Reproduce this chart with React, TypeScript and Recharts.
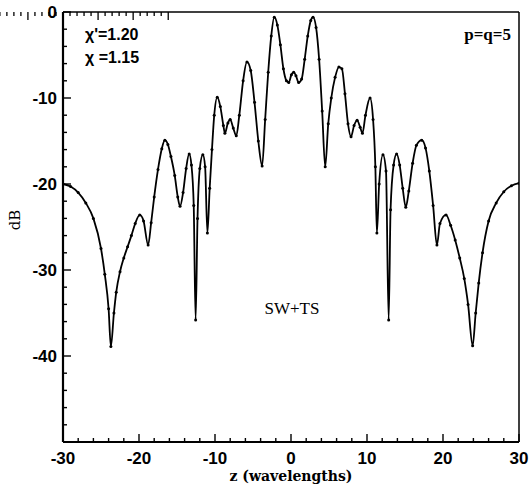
import { LineChart, Line, XAxis, YAxis, Customized } from "recharts";

// z positions (wavelengths)
const zValues = [
  -30, -29, -28, -27, -26, -25, -24.5, -24, -23.7, -23.3, -23, -22.5, -22, -21.5, -21, -20.5,
  -19.9, -19.4, -18.8, -18.4, -18, -17.5, -17, -16.6, -16.2, -15.8, -15.3, -14.9, -14.6, -14.2,
  -13.8, -13.4, -13.1, -12.8, -12.55, -12.3, -12, -11.6, -11.3, -11, -10.7, -10.4, -10.1, -9.7,
  -9.3, -8.9, -8.7, -8.3, -8, -7.6, -7.2, -6.8, -6.3, -5.8, -5.3, -4.8, -4.3, -3.8, -3.4, -3,
  -2.6, -2.2, -1.8, -1.4, -1, -0.6, -0.3, 0.05, 0.35, 0.65, 1, 1.4, 1.8, 2.2, 2.6, 2.9, 3.3, 3.7,
  4.1, 4.5, 4.9, 5.3, 5.8, 6.3, 6.7, 7.1, 7.5, 7.9, 8.3, 8.7, 9.1, 9.4, 9.8, 10.4, 10.8, 11.1,
  11.3, 11.6, 12.1, 12.5, 12.85, 13.1, 13.5, 13.9, 14.3, 14.7, 15.1, 15.5, 16, 16.5, 17.2, 17.7,
  18.2, 18.7, 19.2, 19.6, 20.4, 21, 21.6, 22.2, 22.8, 23.3, 23.9, 24.3, 24.7, 25.2, 26, 27, 28,
  29, 30,
];

// SW+TS level in dB at each z
const dbValues = [
  -20, -20.3, -21, -22.2, -24, -27.5, -30.5, -34.5, -38.9, -35, -32.6, -30.2, -28.6, -27.3, -26,
  -24.6, -23.6, -24.3, -27.1, -24.5, -21.5, -18.3, -15.9, -14.9, -15.4, -16.8, -19, -21.5, -22.6,
  -21, -18.2, -16.5, -17.8, -22.5, -35.8, -24, -18.2, -16.6, -18, -25.7, -20.5, -16, -12, -9.9,
  -11, -13.2, -14.1, -12.9, -12.5, -13.5, -14.4, -12, -8, -5.8, -6.8, -10.5, -15, -17.9, -12.5,
  -7, -2.8, -0.6, -1.5, -3.8, -6.6, -8, -8.2, -7.3, -7, -7.4, -8.2, -7.8, -5.5, -2.8, -1, -0.6,
  -1.8, -5.5, -11.5, -18, -13, -10, -7.6, -6.4, -6.6, -9.5, -13, -14.5, -13.2, -12.6, -13.4,
  -14.1, -12, -10, -12.5, -18, -25.7, -20, -16.6, -18.5, -35.8, -23, -17.8, -16.5, -17.8, -20.5,
  -22.7, -20.8, -17.6, -15.5, -14.9, -15.8, -18.5, -22.5, -27.1, -24.6, -23.6, -24.8, -26.5,
  -28.6, -31, -34, -38.8, -35, -31.5, -28, -24.3, -22.2, -20.9, -20.2, -19.9,
];

const xTicks = [
  -30, -28, -26, -24, -22, -20, -18, -16, -14, -12, -10, -8, -6, -4, -2, 0, 2, 4, 6, 8, 10, 12,
  14, 16, 18, 20, 22, 24, 26, 28, 30,
];
const yTicks = [
  0, -2, -4, -6, -8, -10, -12, -14, -16, -18, -20, -22, -24, -26, -28, -30, -32, -34, -36, -38,
  -40, -42, -44, -46, -48, -50,
];
const yLabelled = [0, -10, -20, -30, -40];

const data = zValues.map((z, i) => ({ z, db: dbValues[i] }));

const W = 529;
const H = 491;
const L = 63;
const R = 519;
const T = 12;
const B = 442;

const sans = "'Liberation Sans', Arial, sans-serif";
const serif = "'Liberation Serif', 'Times New Roman', serif";
const wideSerif = "'DejaVu Serif', serif";

function BottomTick({ x, payload }: any) {
  const v = payload.value;
  const major = v % 10 === 0;
  return (
    <g>
      <line x1={x} x2={x} y1={B} y2={B - (major ? 8 : 4)} stroke="#000" strokeWidth={1.4} />
      {major && (
        <text x={x} y={B + 22} textAnchor="middle" fontFamily={sans} fontWeight="bold" fontSize={17} fill="#000">
          {v}
        </text>
      )}
    </g>
  );
}

function TopTick({ x, payload }: any) {
  const major = payload.value % 10 === 0;
  return <line x1={x} x2={x} y1={T} y2={T + (major ? 8 : 4)} stroke="#000" strokeWidth={1.3} />;
}

function LeftTick({ y, payload }: any) {
  const v = payload.value;
  const major = v % 10 === 0;
  return (
    <g>
      <line x1={L} x2={L + (major ? 8 : 4)} y1={y} y2={y} stroke="#000" strokeWidth={1.4} />
      {yLabelled.includes(v) && (
        <text x={L - 6} y={y + 6} textAnchor="end" fontFamily={sans} fontWeight="bold" fontSize={17} fill="#000">
          {v}
        </text>
      )}
    </g>
  );
}

function RightTick({ y, payload }: any) {
  const major = payload.value % 10 === 0;
  return <line x1={R} x2={R - (major ? 8 : 4)} y1={y} y2={y} stroke="#000" strokeWidth={1.3} />;
}

function Notes() {
  return (
    <g fill="#000">
      <text x={85} y={40} fontFamily={sans} fontWeight="bold" fontSize={16}>χ'=1.20</text>
      <text x={85} y={63} fontFamily={sans} fontWeight="bold" fontSize={16}>χ =1.15</text>
      <text x={511} y={40} textAnchor="end" fontFamily={serif} fontWeight="bold" fontSize={17}>p=q=5</text>
      <text x={292} y={314} textAnchor="middle" fontFamily={serif} fontSize={17}>SW+TS</text>
      <text x={291} y={481} textAnchor="middle" fontFamily={wideSerif} fontWeight="bold" fontSize={14}>
        z (wavelengths)
      </text>
      <text
        x={16}
        y={220}
        textAnchor="middle"
        transform="rotate(-90 16 220)"
        fontFamily={wideSerif}
        fontSize={15}
        dominantBaseline="middle"
      >
        dB
      </text>
    </g>
  );
}

export default function App() {
  return (
    <div style={{ position: "absolute", left: 0, top: 0, width: W, height: H, background: "#fff" }}>
      <LineChart
        width={W}
        height={H}
        data={data}
        margin={{ top: T - 1, right: W - R - 1, bottom: H - B - 30, left: L - 40 }}
      >
        <XAxis
          xAxisId="b"
          dataKey="z"
          type="number"
          domain={[-30, 30]}
          ticks={xTicks}
          allowDataOverflow
          height={30}
          tickLine={false}
          axisLine={{ stroke: "#000", strokeWidth: 2.2 }}
          tick={<BottomTick />}
          interval={0}
        />
        <XAxis
          xAxisId="t"
          orientation="top"
          type="number"
          domain={[-30, 30]}
          ticks={xTicks}
          height={1}
          tickLine={false}
          axisLine={{ stroke: "#000", strokeWidth: 1.5 }}
          tick={<TopTick />}
          interval={0}
        />
        <YAxis
          yAxisId="l"
          type="number"
          domain={[-50, 0]}
          ticks={yTicks}
          width={40}
          tickLine={false}
          axisLine={{ stroke: "#000", strokeWidth: 2.2 }}
          tick={<LeftTick />}
          interval={0}
        />
        <YAxis
          yAxisId="r"
          orientation="right"
          type="number"
          domain={[-50, 0]}
          ticks={yTicks}
          width={1}
          tickLine={false}
          axisLine={{ stroke: "#000", strokeWidth: 1.5 }}
          tick={<RightTick />}
          interval={0}
        />
        <Line
          xAxisId="b"
          yAxisId="l"
          type="monotone"
          dataKey="db"
          stroke="#000"
          strokeWidth={1.8}
          dot={{ r: 1.5, fill: "#000", stroke: "none" }}
          isAnimationActive={false}
        />
        <Customized component={Notes} />
      </LineChart>
    </div>
  );
}
